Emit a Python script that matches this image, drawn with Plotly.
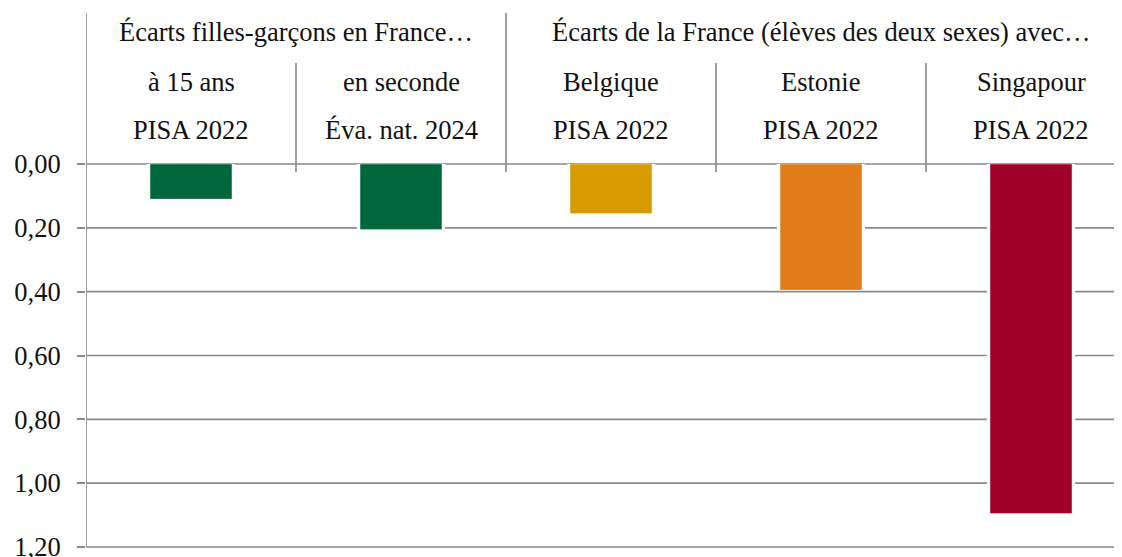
import plotly.graph_objects as go

# ---- data ----
row2_labels = ["à 15 ans", "en seconde", "Belgique", "Estonie", "Singapour"]
row3_labels = ["PISA 2022", "Éva. nat. 2024", "PISA 2022", "PISA 2022", "PISA 2022"]
group_labels = ["Écarts filles-garçons en France…", "Écarts de la France (élèves des deux sexes) avec…"]
group_spans = [(0, 1), (2, 4)]
values = [0.11, 0.205, 0.155, 0.395, 1.095]
bar_colors = ["#00663C", "#00663C", "#D79B00", "#E07C1A", "#A10028"]
y_ticks = [0.0, 0.2, 0.4, 0.6, 0.8, 1.0, 1.2]

FONT = "Liberation Serif"
FS = 26.5
GRID = "#8A8A8A"
TXT = "#111111"

OFF = 8  # default page body margin
W, H = 1122 - OFF, 557 - OFF
L, T, B = 86 - OFF, 164 - OFF, 10
plot_h = H - T - B
cat_px = 210.0
x_lo = -0.5
x_hi = x_lo + (W - L) / cat_px
Y_MAX = 1.2


def py(page_px):
    # page pixel y (from top of window) -> paper y
    return (H - B - (page_px - OFF)) / plot_h


x = list(range(len(values)))

fig = go.Figure()
# white halo bars (interrupt gridlines around bars)
fig.add_trace(go.Bar(x=x, y=values, width=0.42, marker=dict(color="white", line=dict(width=0)),
                     hoverinfo="skip", showlegend=False))
fig.add_trace(go.Bar(x=x, y=values, width=0.39,
                     marker=dict(color=bar_colors, line=dict(color="rgba(255,255,255,0.35)", width=1)),
                     showlegend=False))

shapes = []
# horizontal gridlines
for v in y_ticks:
    yp = 1 - v / Y_MAX
    shapes.append(dict(type="line", xref="paper", yref="paper", x0=0, x1=1, y0=yp, y1=yp,
                       layer="below", line=dict(color=GRID, width=1.6)))
# y axis line extended above into the header
shapes.append(dict(type="line", xref="x", yref="paper", x0=x_lo, x1=x_lo, y0=0, y1=py(13),
                   line=dict(color=GRID, width=1.6)))
# separators
n = len(values)
for i in range(1, n):
    is_group_break = any(i == s for s, e in group_spans)
    top = py(13) if is_group_break else py(63)
    shapes.append(dict(type="line", xref="x", yref="paper", x0=i - 0.5, x1=i - 0.5, y0=py(172), y1=top,
                       line=dict(color=GRID, width=1.6)))

annotations = []
for i in range(n):
    annotations.append(dict(x=i, y=py(82), xref="x", yref="paper", text=row2_labels[i], showarrow=False,
                            font=dict(family=FONT, size=FS, color=TXT), xanchor="center", yanchor="middle"))
    annotations.append(dict(x=i, y=py(130), xref="x", yref="paper", text=row3_labels[i], showarrow=False,
                            font=dict(family=FONT, size=FS, color=TXT), xanchor="center", yanchor="middle"))
for lab, (s, e) in zip(group_labels, group_spans):
    annotations.append(dict(x=(s + e) / 2, y=py(32), xref="x", yref="paper", text=lab, showarrow=False,
                            font=dict(family=FONT, size=FS, color=TXT), xanchor="center", yanchor="middle"))

fig.update_layout(
    width=W, height=H,
    margin=dict(l=L, r=0, t=T, b=B, pad=0, autoexpand=False),
    paper_bgcolor="white", plot_bgcolor="white",
    barmode="overlay",
    separators=", ",
    shapes=shapes, annotations=annotations,
    xaxis=dict(range=[x_lo, x_hi], showticklabels=False, showgrid=False, zeroline=False,
               showline=False, ticks="", automargin=False),
    yaxis=dict(range=[Y_MAX, 0], tickvals=y_ticks, tickformat=".2f", showgrid=False,
               zeroline=False, showline=False, ticks="outside", ticklen=8, automargin=False,
               tickcolor=GRID, tickwidth=1.6, ticklabelstandoff=11, ticklabeloverflow="allow",
               tickfont=dict(family=FONT, size=FS, color=TXT)),
    font=dict(family=FONT),
)

fig.write_html("out.html")
